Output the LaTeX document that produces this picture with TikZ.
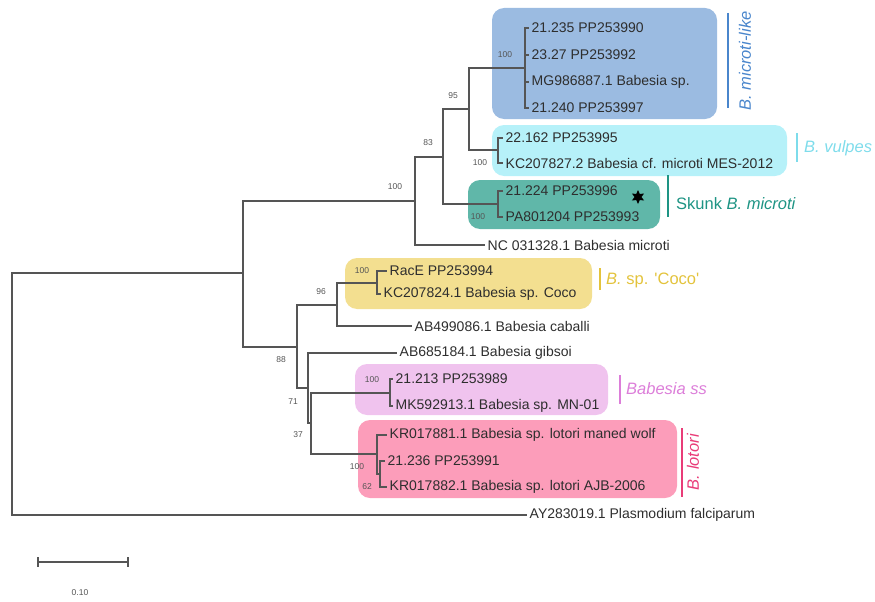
\documentclass[tikz,border=0pt]{standalone}
\usepackage{fontspec}
\setmainfont{Liberation Sans}
\usepackage{tikz}
\usetikzlibrary{shapes.geometric}

\definecolor{treegrey}{HTML}{555555}
\definecolor{leafgrey}{HTML}{2E2E2E}
\definecolor{bootgrey}{HTML}{555555}
\definecolor{boxblue}{HTML}{9BBBE1}
\definecolor{boxcyan}{HTML}{B6F1F9}
\definecolor{boxteal}{HTML}{60B7A9}
\definecolor{boxyellow}{HTML}{F3DF90}
\definecolor{boxorchid}{HTML}{F0C3EE}
\definecolor{boxpink}{HTML}{FC9DBA}
\definecolor{cladeblue}{HTML}{4A86CC}
\definecolor{cladecyan}{HTML}{7EDCEB}
\definecolor{cladeteal}{HTML}{1E9484}
\definecolor{cladeyellow}{HTML}{E3C33C}
\definecolor{cladeorchid}{HTML}{DC7ED9}
\definecolor{cladepink}{HTML}{E93C78}

\begin{document}
\begin{tikzpicture}[x=1pt,y=-1pt,
    branch/.style={draw=treegrey,line width=1.4pt},
    leaf/.style={anchor=west,inner sep=2.5pt,text=leafgrey,font=\fontsize{14}{16}\selectfont},
    boot/.style={text=bootgrey,inner sep=0pt,font=\fontsize{8.5}{10}\selectfont},
    cladebox/.style={rounded corners=12pt},
    cladebar/.style={line width=2pt},
    cladelabel/.style={inner sep=0pt,font=\fontsize{16.5}{18}\selectfont}]

    \useasboundingbox (0,0) rectangle (875,602);

    \fill[boxblue,cladebox] (492,8) rectangle (717,119);
    \fill[boxcyan,cladebox] (492,125) rectangle (787,176);
    \fill[boxteal,cladebox] (468,180) rectangle (660,229);
    \fill[boxyellow,cladebox] (345,258) rectangle (592,309);
    \fill[boxorchid,cladebox] (355,364) rectangle (608,415);
    \fill[boxpink,cladebox] (358,420) rectangle (677,498);

    \coordinate (root) at (12,394);
    \coordinate (nTop) at (243,273);
    \coordinate (nMic) at (415,201);
    \coordinate (n83) at (443,157);
    \coordinate (n95) at (469,109);
    \coordinate (nLike) at (525,68);
    \coordinate (nVul) at (498,150);
    \coordinate (nSkunk) at (498,204);
    \coordinate (n88) at (297,347);
    \coordinate (n96) at (337,305);
    \coordinate (nCoco) at (377,283);
    \coordinate (n71) at (308,388);
    \coordinate (n37) at (311,423);
    \coordinate (nSS) at (390,393);
    \coordinate (nLot) at (377,454);
    \coordinate (n62) at (380,474);

    \node[leaf] (l21235) at (529,28) {21.235 PP253990};
    \node[leaf] (l2327) at (529,55) {23.27 PP253992};
    \node[leaf] (lMG) at (529,82) {MG986887.1 Babesia sp.};
    \node[leaf] (l21240) at (529,108) {21.240 PP253997};
    \node[leaf] (l22162) at (503,138) {22.162 PP253995};
    \node[leaf] (lKCvul) at (503,163) {KC207827.2 Babesia cf. microti MES-2012};
    \node[leaf] (l21224) at (503,191) {21.224 PP253996};
    \node[leaf] (lPA) at (503,217) {PA801204 PP253993};
    \node[leaf] (lNC) at (485,245) {NC 031328.1 Babesia microti};
    \node[leaf] (lRacE) at (387,271) {RacE PP253994};
    \node[leaf] (lKCcoco) at (381,294) {KC207824.1 Babesia sp. Coco};
    \node[leaf] (lCab) at (412,326) {AB499086.1 Babesia caballi};
    \node[leaf] (lGib) at (397,353) {AB685184.1 Babesia gibsoi};
    \node[leaf] (l21213) at (393,379) {21.213 PP253989};
    \node[leaf] (lMK) at (393,406) {MK592913.1 Babesia sp. MN-01};
    \node[leaf] (lKR81) at (387,435) {KR017881.1 Babesia sp. lotori maned wolf};
    \node[leaf] (l21236) at (385,461) {21.236 PP253991};
    \node[leaf] (lKR82) at (387,487) {KR017882.1 Babesia sp. lotori AJB-2006};
    \node[leaf] (lPla) at (527,515) {AY283019.1 Plasmodium falciparum};

    \draw[branch] (root) |- (nTop);
    \draw[branch] (root) |- (lPla.west);
    \draw[branch] (nTop) |- (nMic);
    \draw[branch] (nTop) |- (n88);
    \draw[branch] (nMic) |- (n83);
    \draw[branch] (nMic) |- (lNC.west);
    \draw[branch] (n83) |- (n95);
    \draw[branch] (n83) |- (nSkunk);
    \draw[branch] (n95) |- (nLike);
    \draw[branch] (n95) |- (nVul);
    \draw[branch] (nLike) |- (l21235.west);
    \draw[branch] (nLike) |- (l2327.west);
    \draw[branch] (nLike) |- (lMG.west);
    \draw[branch] (nLike) |- (l21240.west);
    \draw[branch] (nVul) |- (l22162.west);
    \draw[branch] (nVul) |- (lKCvul.west);
    \draw[branch] (nSkunk) |- (l21224.west);
    \draw[branch] (nSkunk) |- (lPA.west);
    \draw[branch] (n88) |- (n96);
    \draw[branch] (n88) |- (n71);
    \draw[branch] (n96) |- (nCoco);
    \draw[branch] (n96) |- (lCab.west);
    \draw[branch] (nCoco) |- (lRacE.west);
    \draw[branch] (nCoco) |- (lKCcoco.west);
    \draw[branch] (n71) |- (lGib.west);
    \draw[branch] (n71) |- (n37);
    \draw[branch] (n37) |- (nSS);
    \draw[branch] (n37) |- (nLot);
    \draw[branch] (nSS) |- (l21213.west);
    \draw[branch] (nSS) |- (lMK.west);
    \draw[branch] (nLot) |- (lKR81.west);
    \draw[branch] (nLot) |- (n62);
    \draw[branch] (n62) |- (l21236.west);
    \draw[branch] (n62) |- (lKR82.west);

    \node[boot] (b100root) at (395,187) {100};
    \node[boot] (b83) at (428,143) {83};
    \node[boot] (b95) at (453,96) {95};
    \node[boot] (b100like) at (505,55) {100};
    \node[boot] (b100vul) at (480,163) {100};
    \node[boot] (b100sk) at (478,217) {100};
    \node[boot] (b96) at (321,292) {96};
    \node[boot] (b100coco) at (362,271) {100};
    \node[boot] (b88) at (281,360) {88};
    \node[boot] (b71) at (293,402) {71};
    \node[boot] (b37) at (298,435) {37};
    \node[boot] (b100ss) at (372,380) {100};
    \node[boot] (b100lot) at (357,467) {100};
    \node[boot] (b62) at (367,487) {62};

    \node[star,star points=6,star point ratio=2,fill=black,minimum size=14pt,inner sep=0pt] (mark) at (638,197) {};

    \draw[cladebar,cladeblue] (728,13) -- (728,108);
    \node[cladelabel,text=cladeblue,rotate=90] (cLike) at (745,61) {\textit{B. microti-like}};
    \draw[cladebar,cladecyan] (797,133) -- (797,162);
    \node[cladelabel,text=cladecyan,anchor=west] (cVul) at (804,148) {\textit{B. vulpes}};
    \draw[cladebar,cladeteal] (668,175) -- (668,217);
    \node[cladelabel,text=cladeteal,anchor=west] (cSkunk) at (676,204) {Skunk \textit{B. microti}};
    \draw[cladebar,cladeyellow] (600,268) -- (600,290);
    \node[cladelabel,text=cladeyellow,anchor=west] (cCoco) at (606,280) {\textit{B.} sp. \textquotesingle Coco\textquotesingle};
    \draw[cladebar,cladeorchid] (620,375) -- (620,404);
    \node[cladelabel,text=cladeorchid,anchor=west] (cSS) at (626,389) {\textit{Babesia ss}};
    \draw[cladebar,cladepink] (682,428) -- (682,497);
    \node[cladelabel,text=cladepink,rotate=90] (cLot) at (693,462) {\textit{B. lotori}};

    \draw[branch] (38,557) -- (38,567) (38,562) -- (128,562) (128,557) -- (128,567);
    \node[boot] (scale) at (80,593) {0.10};
\end{tikzpicture}
\end{document}
